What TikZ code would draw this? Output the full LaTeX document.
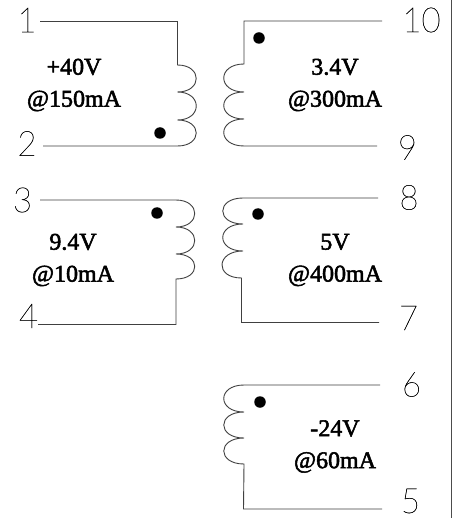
\documentclass[tikz,border=0pt]{standalone}
\usepackage{fontspec}
\setmainfont[FakeBold=2.2]{Liberation Serif}
\newfontfamily\pinfont[FakeBold=0.5]{Lato Thin}
\tikzset{
  wire/.style={line width=0.9pt,draw=black!75},
  coilr/.style={to path={.. controls +(25,0) and +(25,0) .. (\tikztotarget)}},
  coill/.style={to path={.. controls +(-27,0) and +(-27,0) .. (\tikztotarget)}},
  pin/.style={font=\pinfont\fontsize{33}{33}\selectfont,text=black,inner sep=0pt,yscale=1.05,transform shape},
  rating/.style={font=\fontsize{24}{32}\selectfont,align=center,inner sep=0pt,text=black},
  phase/.style={circle,fill=black,inner sep=0pt,minimum size=11.5pt},
  border/.style={line width=1.5pt,draw=black!70}
}
\begin{document}
\begin{tikzpicture}[x=1pt,y=-1pt]
\useasboundingbox (0,0) rectangle (453,518);
\fill[white] (0,0) rectangle (453,518);
\coordinate (bt) at (451.5,0); \coordinate (bb) at (451.5,518);
\draw[border] (bt) -- (bb);
% pins
\node[pin] (p1) at (27,20) {1};
\node[pin] (p2) at (27,143.5) {2};
\node[pin] (p3) at (22.5,200) {3};
\node[pin] (p4) at (28.5,316) {4};
\node[pin] (p5) at (410.5,501) {5};
\node[pin] (p6) at (411.5,384.5) {6};
\node[pin] (p7) at (408.5,318) {7};
\node[pin] (p8) at (409,197.5) {8};
\node[pin] (p9) at (407.5,147.5) {9};
\node[pin] (p10) at (421.5,20) {10};
% ratings
\node[rating] (r1) at (74,85) {+40V\\@150mA};
\node[rating] (r2) at (335,85) {3.4V\\@300mA};
\node[rating] (r3) at (73,260) {9.4V\\@10mA};
\node[rating] (r4) at (335,260) {5V\\@400mA};
\node[rating] (r5) at (335,446.5) {-24V\\@60mA};
% phase dots
\node[phase] (d1) at (160,133) {};
\node[phase] (d2) at (259,38) {};
\node[phase] (d3) at (157,213) {};
\node[phase] (d4) at (258,214) {};
\node[phase] (d5) at (260,402) {};
% winding 1-2
\coordinate (a1) at (40,21.5); \coordinate (a2) at (177.5,21.5);
\coordinate (a3) at (177.5,65); \coordinate (a4) at (177.5,92);
\coordinate (a5) at (177.5,120); \coordinate (a6) at (177.5,146);
\coordinate (a7) at (43,146);
\draw[wire] (a1) -- (a2) -- (a3) to[coilr] (a4) to[coilr] (a5) to[coilr] (a6) -- (a7);
% winding 10-9
\coordinate (b1) at (382,21); \coordinate (b2) at (244,21);
\coordinate (b3) at (244,64); \coordinate (b4) at (244,92);
\coordinate (b5) at (244,119); \coordinate (b6) at (244,146);
\coordinate (b7) at (377,146);
\draw[wire] (b1) -- (b2) -- (b3) to[coill] (b4) to[coill] (b5) to[coill] (b6) -- (b7);
% winding 3-4
\coordinate (c1) at (40,200); \coordinate (c2) at (176,200);
\coordinate (c3) at (176,227); \coordinate (c4) at (176,254);
\coordinate (c5) at (176,279); \coordinate (c6) at (176,324.5);
\coordinate (c7) at (38,324.5);
\draw[wire] (c1) -- (c2) to[coilr] (c3) to[coilr] (c4) to[coilr] (c5) -- (c6) -- (c7);
% winding 8-7
\coordinate (e1) at (378,198); \coordinate (e2) at (243,198);
\coordinate (e3) at (243,224); \coordinate (e4) at (243,251);
\coordinate (e5) at (241.5,278); \coordinate (e6) at (241.5,322.5);
\coordinate (e7) at (379,322.5);
\draw[wire] (e1) -- (e2) to[coill] (e3) to[coill] (e4) to[coill] (e5) -- (e6) -- (e7);
% winding 6-5
\coordinate (f1) at (380,385); \coordinate (f2) at (244,385);
\coordinate (f3) at (244,412); \coordinate (f4) at (244,438);
\coordinate (f5) at (244,464); \coordinate (f6) at (243.5,509);
\coordinate (f7) at (382,509);
\draw[wire] (f1) -- (f2) to[coill] (f3) to[coill] (f4) to[coill] (f5) -- (f6) -- (f7);
\end{tikzpicture}
\end{document}
